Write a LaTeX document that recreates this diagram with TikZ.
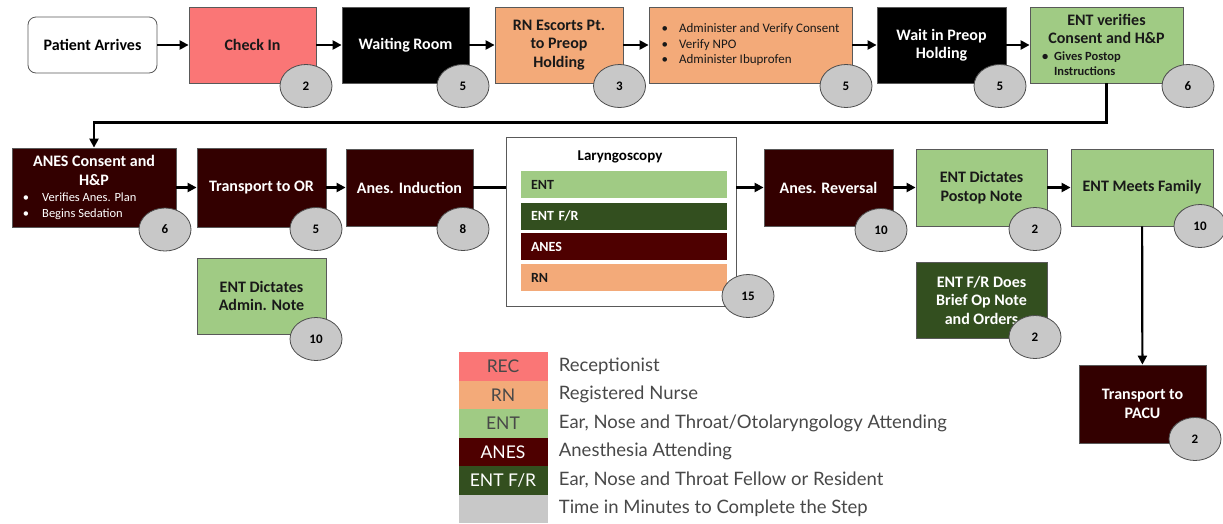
\documentclass[tikz,border=0pt]{standalone}
\usepackage{fontspec}
\setmainfont{Carlito}
\newfontfamily\legendfont{Lato}
\usetikzlibrary{arrows.meta}
\usetikzlibrary{positioning}
\usetikzlibrary{shapes.geometric}

\definecolor{recred}{RGB}{250,118,118}
\definecolor{rnpeach}{RGB}{243,170,121}
\definecolor{entgreen}{RGB}{160,203,132}
\definecolor{anesbrown}{RGB}{51,0,0}
\definecolor{anesred}{RGB}{78,0,0}
\definecolor{frgreen}{RGB}{51,79,31}
\definecolor{timegray}{RGB}{200,200,200}
\definecolor{legendtext}{RGB}{72,72,72}

\tikzset{
	stepbox/.style={draw=black!65, line width=0.8pt, align=center, inner sep=3pt,
		minimum height=76pt, font=\fontsize{16}{18.5}\selectfont\bfseries},
	recbox/.style={stepbox, fill=recred, text=black!90},
	rnbox/.style={stepbox, fill=rnpeach, text=black!90},
	entbox/.style={stepbox, fill=entgreen, text=black!90},
	anesbox/.style={stepbox, fill=anesbrown, text=white},
	frbox/.style={stepbox, fill=frgreen, text=white},
	waitbox/.style={stepbox, fill=black, text=white},
	mins/.style={ellipse, draw=black!70, line width=0.8pt, fill=timegray, inner sep=0pt,
		minimum width=52pt, minimum height=43pt, font=\fontsize{13}{15}\selectfont\bfseries},
	lane/.style={text width=186pt, inner xsep=10pt, inner ysep=0pt, minimum height=27pt,
		align=left, font=\fontsize{14}{16}\selectfont\bfseries},
	flow/.style={line width=2.2pt, -{Triangle[length=9pt,width=9pt]}},
	swatch/.style={minimum width=89pt, minimum height=28.5pt, inner sep=0pt,
		font=\legendfont\fontsize{17.5}{20}\selectfont},
	legtext/.style={right=11pt of #1, inner sep=0pt, text=legendtext,
		font=\legendfont\fontsize{18.5}{21}\selectfont}
}

\begin{document}
\begin{tikzpicture}[x=1pt, y=-1pt]
	\useasboundingbox (0,0) rectangle (1223,523);
	% first row
	\path	(92.5,45)	node[stepbox, fill=white, rounded corners=8pt, minimum width=129pt, minimum height=56pt] (arrives) {Patient Arrives}
		(252.5,45)	node[recbox, minimum width=127pt] (checkin) {Check In}
		(405.5,45)	node[waitbox, minimum width=127pt] (waiting) {Waiting Room}
		(559,45)	node[rnbox, minimum width=128pt] (escort) {RN Escorts Pt.\\to Preop\\Holding}
		(750.5,45)	node[rnbox, minimum width=203pt, align=left, font=\fontsize{13}{15.5}\selectfont] (verify)
			{\textbullet\hspace{11pt}Administer and Verify Consent\\\textbullet\hspace{11pt}Verify NPO\\\textbullet\hspace{11pt}Administer Ibuprofen}
		(941.5,45)	node[waitbox, minimum width=129pt] (preop) {Wait in Preop\\Holding}
		(1106.5,45)	node[entbox, minimum width=153pt] (entver)
			{ENT verifies\\Consent and H\&P\\[-2pt]
			{\fontsize{12.5}{14.5}\selectfont\makebox[129pt][l]{\textbullet\hspace{6pt}Gives Postop}}\\[-3pt]
			{\fontsize{12.5}{14.5}\selectfont\makebox[129pt][l]{\hspace{12pt}Instructions}}};
	% second row
	\path	(94,187.5)	node[anesbox, minimum width=164pt, minimum height=79pt] (anescons)
			{ANES Consent and\\H\&P\\[-2pt]
			{\fontsize{12.5}{14.5}\selectfont\mdseries\makebox[142pt][l]{\textbullet\hspace{13pt}Verifies Anes. Plan}}\\[-3pt]
			{\fontsize{12.5}{14.5}\selectfont\mdseries\makebox[142pt][l]{\textbullet\hspace{13pt}Begins Sedation}}}
		(261.5,187.5)	node[anesbox, minimum width=129pt, minimum height=79pt] (toor) {Transport to OR}
		(409.5,187.5)	node[anesbox, minimum width=127pt, minimum height=77pt] (induct) {Anes. Induction}
		(621,221.5)	node[draw=black!65, line width=0.8pt, fill=white, minimum width=230pt, minimum height=169pt] (lar) {}
		(620,157)	node[font=\fontsize{15}{17}\selectfont\bfseries] (lartitle) {Laryngoscopy}
		(624,184.5)	node[lane, fill=entgreen, text=black!90] (laneent) {ENT}
		(624,216)	node[lane, fill=frgreen, text=white] (lanefr) {ENT F/R}
		(624,246.5)	node[lane, fill=anesred, text=white] (laneanes) {ANES}
		(624,277.5)	node[lane, fill=rnpeach, text=black!90] (lanern) {RN}
		(828.5,187.5)	node[anesbox, minimum width=129pt, minimum height=77pt] (reversal) {Anes. Reversal}
		(981.5,187.5)	node[entbox, minimum width=131pt, minimum height=77pt] (postop) {ENT Dictates\\Postop Note}
		(1142,187.5)	node[entbox, minimum width=142pt, minimum height=77pt] (family) {ENT Meets Family}
		(261.5,296)	node[entbox, minimum width=129pt] (adminnote) {ENT Dictates\\Admin. Note}
		(981.5,300)	node[frbox, minimum width=131pt] (frnote) {ENT F/R Does\\Brief Op Note\\and Orders}
		(1142.5,404)	node[anesbox, minimum width=127pt, minimum height=78pt] (pacu) {Transport to\\PACU};
	% connectors
	\draw[flow] (arrives) -- (checkin);
	\draw[flow] (checkin) -- (waiting);
	\draw[flow] (waiting) -- (escort);
	\draw[flow] (escort) -- (verify);
	\draw[flow] (verify) -- (preop);
	\draw[flow] (preop) -- (entver);
	\draw[flow] (entver.south) -- ++(0,39) -| (anescons.north);
	\draw[flow] (anescons) -- (toor);
	\draw[flow] (toor) -- (induct);
	\draw[line width=2.2pt] (induct.east) -- (induct.east -| lar.west);
	\draw[flow] (reversal.west -| lar.east) -- (reversal.west);
	\draw[flow] (reversal) -- (postop);
	\draw[flow] (postop) -- (family);
	\draw[flow] (family) -- (pacu);
	% minutes
	\path	(306,86) node[mins] (t1) {2}
		(463,86) node[mins] (t2) {5}
		(619.5,86) node[mins] (t3) {3}
		(846,86) node[mins] (t4) {5}
		(1000,86) node[mins] (t5) {5}
		(1188,86) node[mins] (t6) {6}
		(165,229.5) node[mins] (t7) {6}
		(316,229) node[mins] (t8) {5}
		(463,229) node[mins] (t9) {8}
		(316,339) node[mins] (t10) {10}
		(748,296) node[mins] (t11) {15}
		(881,230) node[mins] (t12) {10}
		(1035,229) node[mins] (t13) {2}
		(1200,226) node[mins] (t14) {10}
		(1035,337) node[mins] (t15) {2}
		(1195,439) node[mins] (t16) {2};
	% legend
	\path	(503,366.25) node[swatch, fill=recred, text=legendtext] (lrec) {REC}
		(503,394.75) node[swatch, fill=rnpeach, text=legendtext] (lrn) {RN}
		(503,423.25) node[swatch, fill=entgreen, text=legendtext] (lent) {ENT}
		(503,451.75) node[swatch, fill=anesred, text=white] (lanes) {ANES}
		(503,480.25) node[swatch, fill=frgreen, text=white] (lfr) {ENT F/R}
		(503,508.75) node[swatch, fill=timegray] (ltime) {};
	\node[legtext=lrec] (trec) {Receptionist};
	\node[legtext=lrn] (trn) {Registered Nurse};
	\node[legtext=lent] (tent) {Ear, Nose and Throat/Otolaryngology Attending};
	\node[legtext=lanes] (tanes) {Anesthesia Attending};
	\node[legtext=lfr] (tfr) {Ear, Nose and Throat Fellow or Resident};
	\node[legtext=ltime] (ttime) {Time in Minutes to Complete the Step};
\end{tikzpicture}
\end{document}
